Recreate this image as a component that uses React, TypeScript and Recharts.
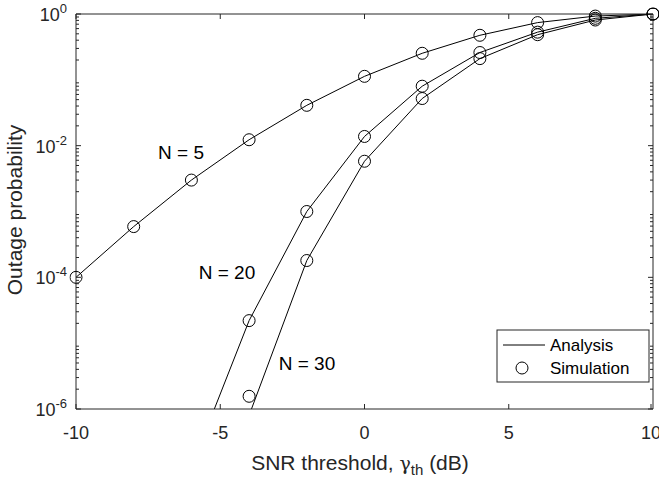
import React from 'react';
import { LineChart, Line, XAxis, YAxis } from 'recharts';

// SNR threshold (dB)
const snr = [-10, -8, -6, -4, -2, 0, 2, 4, 6, 8, 10];

// analytical outage probability (null = far below the plot)
const analysisN5 = [1e-4, 5.9e-4, 3.0e-3, 1.23e-2, 4.1e-2, 0.113, 0.253, 0.475, 0.74, 0.93, 1];
const analysisN20 = [null, null, 1.3e-7, 2.2e-5, 1.0e-3, 1.38e-2, 0.08, 0.26, 0.53, 0.86, 1];
const analysisN30 = [null, null, null, 8e-7, 1.8e-4, 5.8e-3, 0.052, 0.21, 0.485, 0.81, 1];

// simulated points
const simN5 = [1e-4, 5.9e-4, 3.0e-3, 1.23e-2, 4.1e-2, 0.113, 0.253, 0.475, 0.74, 0.93, 1];
const simN20 = [null, null, null, 2.2e-5, 1.0e-3, 1.38e-2, 0.08, 0.26, 0.53, 0.86, 1];
const simN30 = [null, null, null, 1.56e-6, 1.8e-4, 5.8e-3, 0.052, 0.21, 0.485, 0.81, 1];

const xTicks = [-10, -5, 0, 5, 10];
const yMajor = [1e-6, 1e-4, 1e-2, 1];
const yTicks: number[] = [...yMajor];
for (let e = -6; e < 0; e++) {
  for (let m = 2; m <= 9; m++) yTicks.push(m * Math.pow(10, e));
}
yTicks.sort((a, b) => a - b);

const data = snr.map((x, i) => ({
  x,
  a5: analysisN5[i],
  a20: analysisN20[i],
  a30: analysisN30[i],
  s5: simN5[i],
  s20: simN20[i],
  s30: simN30[i],
}));

const AXIS = '#262626';
const FONT = '"Liberation Sans", Arial, Helvetica, sans-serif';
const W = 659;
const H = 477;

const isMajor = (v: number) => Math.abs(Math.log10(v) - Math.round(Math.log10(v))) < 1e-6;

// ticks point inward, MATLAB style
const LeftTick = (props: any) => {
  const { x, y, payload } = props;
  const major = isMajor(payload.value);
  const exp = Math.round(Math.log10(payload.value));
  return (
    <g>
      <line x1={x} x2={x + (major ? 5 : 3)} y1={y} y2={y} stroke={AXIS} />
      {major && (
        <text x={x - 9} y={y + 7} textAnchor="end" fill={AXIS} fontSize={18} fontFamily={FONT}>
          <tspan>10</tspan>
          <tspan dy={-8} fontSize={13}>{exp}</tspan>
        </text>
      )}
    </g>
  );
};

const RightTick = (props: any) => {
  const { x, y, payload } = props;
  const major = isMajor(payload.value);
  return <line x1={x} x2={x - (major ? 5 : 3)} y1={y} y2={y} stroke={AXIS} />;
};

const BottomTick = (props: any) => {
  const { x, y, payload } = props;
  return (
    <g>
      <line x1={x} x2={x} y1={y} y2={y - 5} stroke={AXIS} />
      <text x={x} y={y + 30} textAnchor="middle" fill={AXIS} fontSize={18} fontFamily={FONT}>
        {payload.value}
      </text>
    </g>
  );
};

const TopTick = (props: any) => {
  const { x, y } = props;
  return <line x1={x} x2={x} y1={y} y2={y + 5} stroke={AXIS} />;
};

const dotStyle = { r: 6, stroke: '#000', strokeWidth: 1, fill: 'none', clipDot: false };

export default function App() {
  return (
    <div style={{ position: 'absolute', left: 0, top: 0, width: W, height: H, background: '#fff', fontFamily: FONT }}>
      <LineChart width={W} height={H} data={data} margin={{ top: 13, right: 5, bottom: 67, left: 75 }}>
        <XAxis xAxisId="b" type="number" dataKey="x" domain={[-10, 10]} ticks={xTicks} allowDataOverflow
          height={1} tickSize={0} tickMargin={0} tickLine={false} stroke={AXIS} tick={<BottomTick />} />
        <XAxis xAxisId="t" orientation="top" type="number" dataKey="x" domain={[-10, 10]} ticks={xTicks}
          allowDataOverflow height={1} tickSize={0} tickMargin={0} tickLine={false} stroke={AXIS} tick={<TopTick />} />
        <YAxis yAxisId="l" type="number" scale="log" domain={[1e-6, 1]} ticks={yTicks} allowDataOverflow
          interval={0} width={1} tickSize={0} tickMargin={0} tickLine={false} stroke={AXIS} tick={<LeftTick />} />
        <YAxis yAxisId="r" orientation="right" type="number" scale="log" domain={[1e-6, 1]} ticks={yTicks}
          interval={0} allowDataOverflow width={1} tickSize={0} tickMargin={0} tickLine={false} stroke={AXIS}
          tick={<RightTick />} />

        <Line xAxisId="b" yAxisId="l" dataKey="a5" stroke="#000" strokeWidth={1} dot={false} isAnimationActive={false} />
        <Line xAxisId="b" yAxisId="l" dataKey="a20" stroke="#000" strokeWidth={1} dot={false} isAnimationActive={false} />
        <Line xAxisId="b" yAxisId="l" dataKey="a30" stroke="#000" strokeWidth={1} dot={false} isAnimationActive={false} />
        <Line xAxisId="b" yAxisId="l" dataKey="s5" stroke="none" dot={dotStyle} activeDot={false} isAnimationActive={false} />
        <Line xAxisId="b" yAxisId="l" dataKey="s20" stroke="none" dot={dotStyle} activeDot={false} isAnimationActive={false} />
        <Line xAxisId="b" yAxisId="l" dataKey="s30" stroke="none" dot={dotStyle} activeDot={false} isAnimationActive={false} />
      </LineChart>

      <svg width={W} height={H} style={{ position: 'absolute', left: 0, top: 0, pointerEvents: 'none' }}>
        <g fontFamily={FONT} fill="#000" fontSize={19}>
          <text x={181} y={159} textAnchor="middle">N = 5</text>
          <text x={227} y={279} textAnchor="middle">N = 20</text>
          <text x={307} y={370} textAnchor="middle">N = 30</text>
        </g>
        <text x={360} y={470} textAnchor="middle" fontFamily={FONT} fontSize={21} fill={AXIS}>
          <tspan>SNR threshold, </tspan>
          <tspan fontFamily='"DejaVu Serif", serif' fontSize={19}>γ</tspan>
          <tspan dy={5} fontSize={15}>th</tspan>
          <tspan dy={-5}> (dB)</tspan>
        </text>
        <text transform="translate(22,210) rotate(-90)" textAnchor="middle" fontFamily={FONT} fontSize={21} fill={AXIS}>
          Outage probability
        </text>
        {/* legend */}
        <g fontFamily={FONT} fontSize={17} fill="#000">
          <rect x={497} y={330} width={152} height={52} fill="#fff" stroke={AXIS} strokeWidth={1} />
          <line x1={503} x2={545} y1={345} y2={345} stroke="#000" strokeWidth={1} />
          <text x={550} y={351}>Analysis</text>
          <circle cx={522} cy={368} r={6} stroke="#000" fill="none" />
          <text x={550} y={374}>Simulation</text>
        </g>
      </svg>
    </div>
  );
}
